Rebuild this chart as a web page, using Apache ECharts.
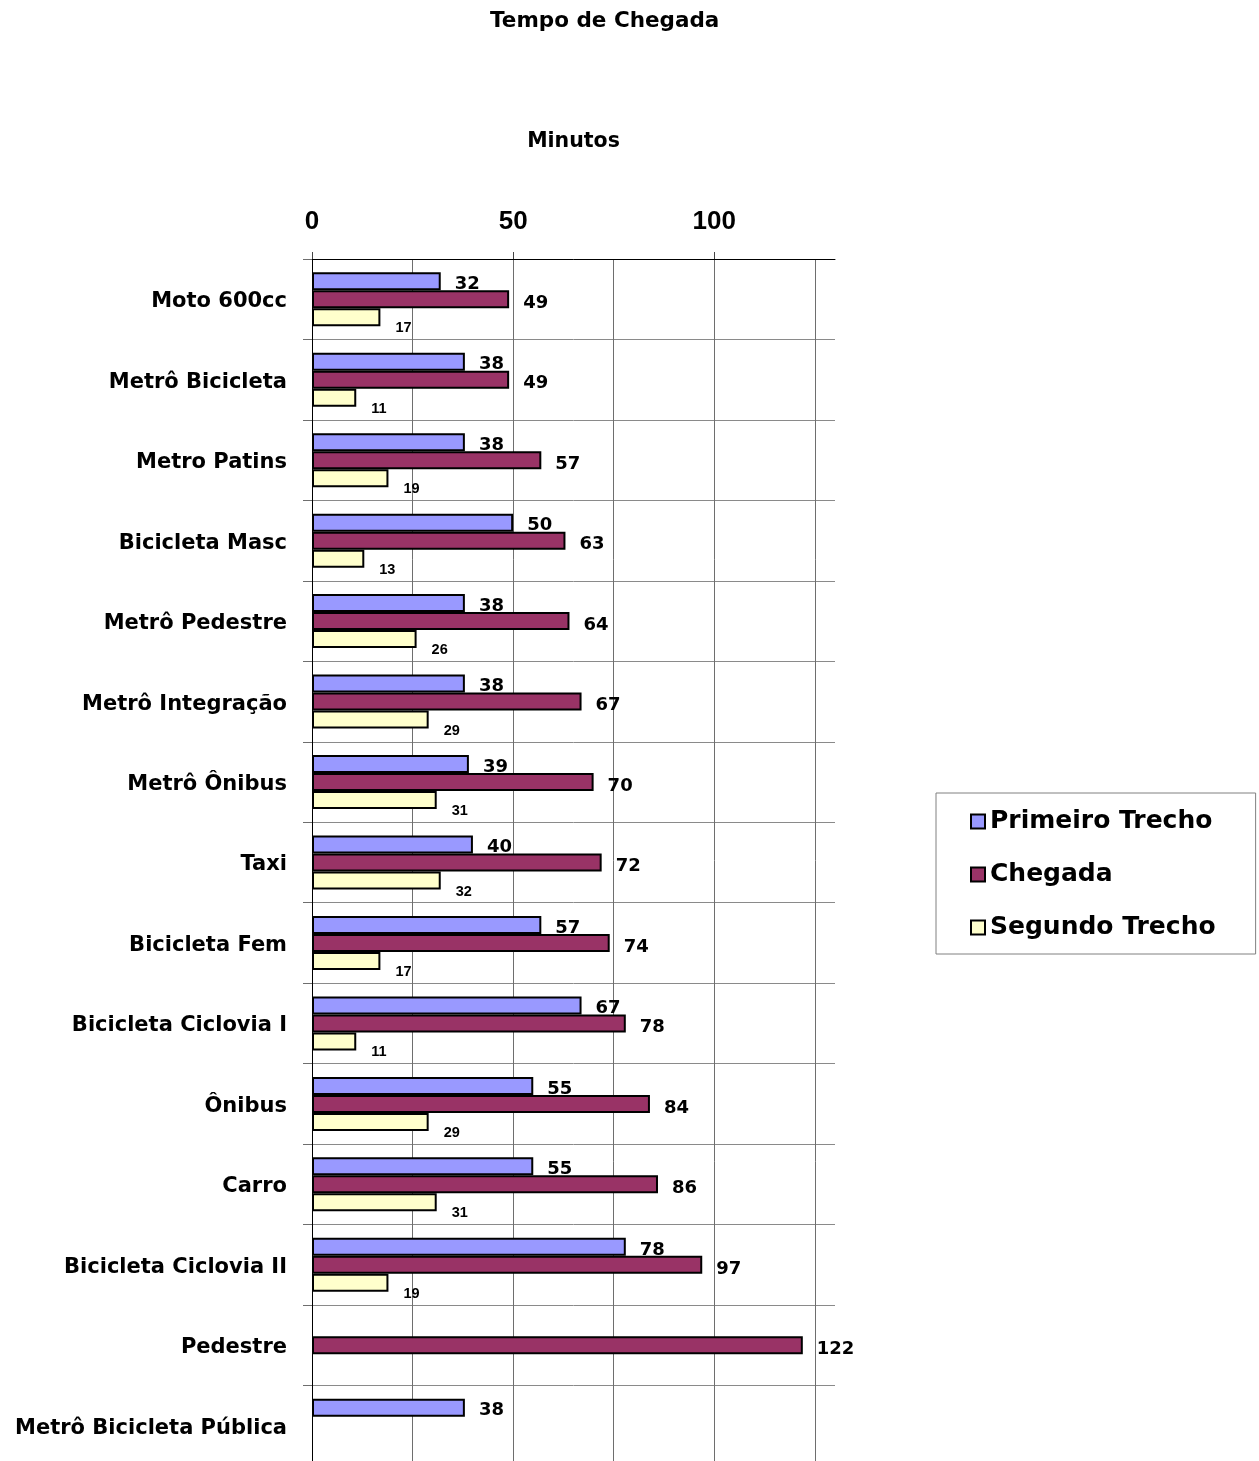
<!DOCTYPE html>
<html><head><meta charset="utf-8">
<script src="https://cdn.jsdelivr.net/npm/echarts@6/dist/echarts.min.js"></script>
<style>html,body{margin:0;padding:0;background:#fff}#c{width:1259px;height:1461px}</style>
</head><body><div id="c"></div>
<script>
const categories = ['Moto 600cc','Metrô Bicicleta','Metro Patins','Bicicleta Masc','Metrô Pedestre','Metrô Integração','Metrô Ônibus','Taxi','Bicicleta Fem','Bicicleta Ciclovia I','Ônibus','Carro','Bicicleta Ciclovia II','Pedestre','Metrô Bicicleta Pública'];
const primeiroTrecho = [32,38,38,50,38,38,39,40,57,67,55,55,78,null,38];
const chegada = [49,49,57,63,64,67,70,72,74,78,84,86,97,122,null];
const segundoTrecho = [17,11,19,13,26,29,31,32,17,11,29,31,19,null,null];
const xTickLabels = [0,50,100];
const seriesNames = ['Primeiro Trecho','Chegada','Segundo Trecho'];

const WIDE = '"DejaVu Sans", sans-serif';
const ARIAL = '"Liberation Sans", Arial, sans-serif';
const chart = echarts.init(document.getElementById('c'), null, {renderer: 'canvas'});
const border = {borderColor: '#000', borderWidth: 2};
chart.setOption({
  animation: false,
  backgroundColor: '#fff',
  title: {
    text: 'Tempo de Chegada', left: 490, top: 10, padding: 0,
    textStyle: {fontFamily: WIDE, fontWeight: 'bold', fontSize: 21.5, color: '#000'}
  },
  legend: {
    orient: 'vertical', left: 936, top: 793,
    padding: [16, 40, 14, 34],
    borderColor: '#808080', borderWidth: 1,
    itemWidth: 14, itemHeight: 14, itemGap: 28,
    icon: 'rect',
    textStyle: {fontFamily: WIDE, fontWeight: 'bold', fontSize: 25, color: '#000', lineHeight: 25},
    data: seriesNames
  },
  grid: {left: 312, width: 523, top: 259, height: 1207, containLabel: false, outerBoundsMode: 'none'},
  xAxis: [
    {
      type: 'value', position: 'top', min: 0, max: 130, interval: 25,
      axisLine: {show: true, lineStyle: {color: '#000', width: 1}},
      axisTick: {show: false},
      axisLabel: {show: false},
      splitLine: {show: true, showMaxLine: false, lineStyle: {color: '#6e6e6e', width: 1}}
    },
    {
      type: 'value', position: 'top', min: 0, max: 130, interval: 50,
      name: 'Minutos', nameLocation: 'middle', nameGap: 107,
      nameTextStyle: {fontFamily: WIDE, fontWeight: 'bold', fontSize: 20.5, color: '#000'},
      axisLine: {show: false},
      axisTick: {show: true, customValues: xTickLabels, length: 7, lineStyle: {color: '#444'}},
      axisLabel: {
        customValues: xTickLabels, margin: 24,
        fontFamily: ARIAL, fontWeight: 'bold', fontSize: 26, color: '#000',
        formatter: v => (v % 50 === 0 && v <= 100) ? String(v) : ''
      },
      splitLine: {show: false}
    }
  ],
  yAxis: {
    type: 'category', inverse: true, data: categories,
    axisLine: {show: true, lineStyle: {color: '#000', width: 1}},
    axisTick: {show: true, length: 9, lineStyle: {color: '#6e6e6e'}},
    axisLabel: {
      margin: 25, fontFamily: WIDE, fontWeight: 'bold', fontSize: 21, color: '#000',
      formatter: v => '{a|' + v + '}',
      rich: {a: {fontFamily: WIDE, fontWeight: 'bold', fontSize: 21, color: '#000', padding: [5, 0, 0, 0]}}
    },
    splitLine: {show: true, lineStyle: {color: '#8a8a8a', width: 1}}
  },
  series: [
    {
      name: seriesNames[0], type: 'bar', xAxisIndex: 0, data: primeiroTrecho, barWidth: 18, barGap: '0%',
      itemStyle: Object.assign({color: '#9999FF'}, border),
      label: {show: true, position: 'right', distance: 14, offset: [0, 3],
        fontFamily: WIDE, fontWeight: 'bold', fontSize: 18, color: '#000'}
    },
    {
      name: seriesNames[1], type: 'bar', xAxisIndex: 0, data: chegada, barWidth: 18, barGap: '0%',
      itemStyle: Object.assign({color: '#993366'}, border),
      label: {show: true, position: 'right', distance: 14, offset: [0, 4],
        fontFamily: WIDE, fontWeight: 'bold', fontSize: 18, color: '#000'}
    },
    {
      name: seriesNames[2], type: 'bar', xAxisIndex: 0, data: segundoTrecho, barWidth: 18, barGap: '0%',
      itemStyle: Object.assign({color: '#FFFFCC'}, border),
      label: {show: true, position: 'right', distance: 15, offset: [0, 11],
        fontFamily: ARIAL, fontWeight: 'bold', fontSize: 14.5, color: '#000'}
    }
  ]
});
</script>
</body></html>
